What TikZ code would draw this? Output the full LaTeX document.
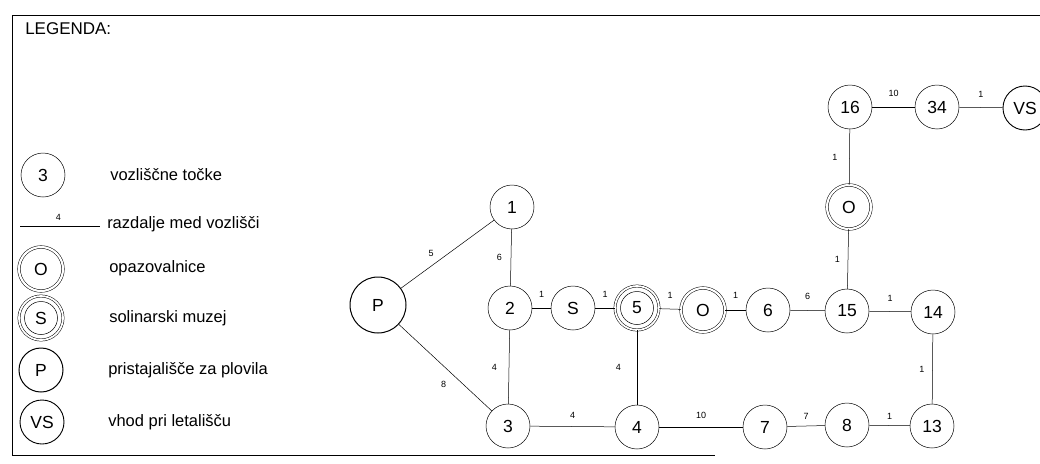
\documentclass[tikz,border=0pt]{standalone}
\usepackage{fontspec}
\setmainfont{Liberation Sans}
\usetikzlibrary{positioning}

\begin{document}
\begin{tikzpicture}[x=1pt, y=-1pt, line width=0.5pt,
  vozel/.style = {draw, circle, minimum size=44pt, inner sep=0pt, font=\fontsize{17.5}{17.5}\selectfont},
  dvojni/.style = {vozel, double, double distance=2.2pt},
  trojni/.style = {vozel, double, double distance=1.8pt, path picture={\draw (path picture bounding box.center) circle (16.5pt);}},
  pristan/.style = {vozel, line width=1pt},
  vhod/.style = {vozel, line width=0.9pt},
  razd/.style = {font=\fontsize{9}{9}\selectfont, inner sep=0pt},
  opis/.style = {anchor=west, font=\fontsize{16.5}{17}\selectfont, inner sep=0pt}
]
  \useasboundingbox (0,0) rectangle (1040,463);

  % Frame
  \draw[line width=0.9pt] (1040,15) -- (12,15) -- (12,455) -- (715,455);

  % Legend
  \node[opis, font=\fontsize{17}{17}\selectfont] (legenda) at (25,29) {LEGENDA:};
  \node[vozel] (l3) at (43,175) {3};
  \node[opis] at (110,175) {vozliščne točke};
  \coordinate (la) at (20,226);
  \coordinate (lb) at (100,226);
  \draw (la) -- node[razd, above=5pt, pos=0.48] {4} (lb);
  \node[opis] at (107,224) {razdalje med vozlišči};
  \node[dvojni] (lO) at (41,269) {O};
  \node[opis] at (109,268) {opazovalnice};
  \node[trojni] (lS) at (41,318) {S};
  \node[opis] at (109,318) {solinarski muzej};
  \node[pristan] (lP) at (41,370) {P};
  \node[opis] at (108,370) {pristajališče za plovila};
  \node[vhod] (lVS) at (42,422) {VS};
  \node[opis] at (108,422) {vhod pri letališču};

  % Nodes
  \node[pristan, minimum size=56pt] (P) at (378,305) {P};
  \node[vozel] (n1) at (512,207) {1};
  \node[vozel] (n2) at (510,308) {2};
  \node[vozel] (S) at (573,308) {S};
  \node[trojni] (n5) at (637,308) {5};
  \node[dvojni] (Oa) at (703,310) {O};
  \node[vozel] (n6) at (768,310) {6};
  \node[vozel] (n15) at (847,311) {15};
  \node[vozel] (n14) at (933,312) {14};
  \node[vozel] (n3) at (508,426) {3};
  \node[vozel] (n4) at (637,427) {4};
  \node[vozel] (n7) at (765,427) {7};
  \node[vozel] (n8) at (847,425) {8};
  \node[vozel] (n13) at (932,426) {13};
  \node[dvojni] (Ob) at (849,207) {O};
  \node[vozel] (n16) at (850,107) {16};
  \node[vozel] (n34) at (937,107) {34};
  \node[vhod] (VS) at (1025,108) {VS};

  % Connections
  \draw (P) -- node[razd, pos=0.4, above left=6pt] {5} (n1);
  \draw (P) -- node[razd, pos=0.58, below left=9pt] {8} (n3);
  \draw (n1) -- node[razd, left=9pt] {6} (n2);
  \draw (n2) -- node[razd, above=10pt] {1} (S);
  \draw (S) -- node[razd, above=10pt] {1} (n5);
  \draw (n5) -- node[razd, above=10pt] {1} (Oa);
  \draw (Oa) -- node[razd, above=11pt] {1} (n6);
  \draw (n6) -- node[razd, above=11pt] {6} (n15);
  \draw (n15) -- node[razd, above=10pt] {1} (n14);
  \draw (n2) -- node[razd, left=12pt] {4} (n3);
  \draw (n5) -- node[razd, left=16pt] {4} (n4);
  \draw (n3) -- node[razd, above=8pt] {4} (n4);
  \draw (n4) -- node[razd, above=8pt] {10} (n7);
  \draw (n7) -- node[razd, above=6pt] {7} (n8);
  \draw (n8) -- node[razd, above=6pt] {1} (n13);
  \draw (n14) -- node[razd, left=8pt] {1} (n13);
  \draw (n15) -- node[razd, left=8pt] {1} (Ob);
  \draw (Ob) -- node[razd, left=12pt] {1} (n16);
  \draw (n16) -- node[razd, above=10pt] {10} (n34);
  \draw (n34) -- node[razd, above=10pt] {1} (VS);

\end{tikzpicture}
\end{document}
